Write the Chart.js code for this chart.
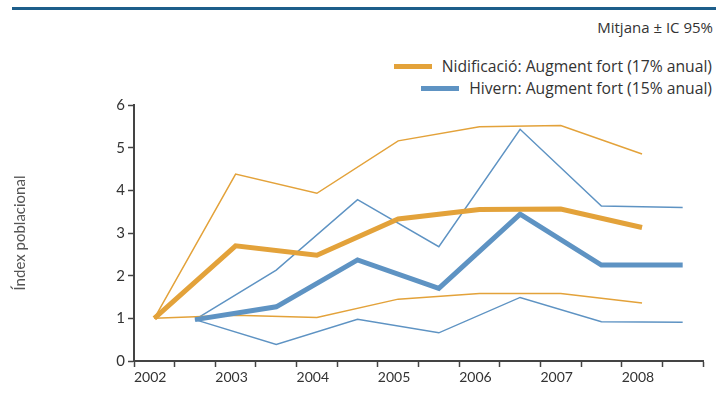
<!DOCTYPE html>
<html>
<head>
<meta charset="utf-8">
<script src="https://cdn.jsdelivr.net/npm/chart.js@4.4.1/dist/chart.umd.min.js"></script>
<style>
    body { margin: 0; width: 716px; height: 415px; position: relative; overflow: hidden; background: #fff; font-family: Lato, sans-serif; color: #333; }
    #rule { position: absolute; left: 12px; right: 0; top: 7px; height: 3px; background: #1d5e8a; }
    #note { position: absolute; right: 3px; top: 19px; font-family: "Open Sans", sans-serif; font-size: 15px; line-height: 17px; }
    #legend { position: absolute; right: 4px; top: 55px; font-family: "Open Sans", sans-serif; font-size: 15.7px; }
    .legend-row { display: flex; justify-content: flex-end; align-items: center; height: 22px; }
    .legend-line { width: 38px; height: 5px; margin-right: 10px; }
    #chartWrap { position: absolute; left: 0; top: 0; width: 716px; height: 415px; }
</style>
</head>
<body>
<div id="rule"></div>
<div id="note">Mitjana ± IC 95%</div>
<div id="legend"></div>
<div id="chartWrap"><canvas id="indexChart"></canvas></div>
<script>
Chart.defaults.font.family = "Lato, sans-serif"
Chart.defaults.color = "#333"

const years = [2002, 2003, 2004, 2005, 2006, 2007, 2008]
// breeding counts sit early in the year, winter counts late
const nestOffset = 0.25
const winterOffset = 0.75

const nestMean = [1.00, 2.70, 2.48, 3.33, 3.55, 3.56, 3.13]
const nestHigh = [1.00, 4.38, 3.93, 5.16, 5.49, 5.52, 4.85]
const nestLow = [1.00, 1.07, 1.02, 1.45, 1.58, 1.58, 1.36]

const winterMean = [0.97, 1.27, 2.37, 1.70, 3.44, 2.25, 2.25]
const winterHigh = [0.97, 2.13, 3.78, 2.68, 5.43, 3.63, 3.60]
const winterLow = [0.97, 0.39, 0.98, 0.66, 1.49, 0.92, 0.91]

const nestLabel = "Nidificació: Augment fort (17% anual)"
const winterLabel = "Hivern: Augment fort (15% anual)"
const yTicks = [0, 1, 2, 3, 4, 5, 6]

const orange = "#e3a23a"
const blue = "#5e93c3"

function toPoints(values, offset){
    return values.map((v, i) => ({x: years[i] + offset, y: v}))
}

function lineSet(label, values, offset, color, width, inLegend){
    return {
        label: label,
        data: toPoints(values, offset),
        borderColor: color,
        backgroundColor: color,
        borderWidth: width,
        pointRadius: 0,
        tension: 0,
        showInLegend: inLegend
    }
}

const chart = new Chart(document.getElementById("indexChart"), {
    type: "line",
    data: {
        datasets: [
            lineSet(nestLabel, nestMean, nestOffset, orange, 5, true),
            lineSet(winterLabel, winterMean, winterOffset, blue, 5, true),
            lineSet("", nestHigh, nestOffset, orange, 1.5, false),
            lineSet("", nestLow, nestOffset, orange, 1.5, false),
            lineSet("", winterHigh, winterOffset, blue, 1.5, false),
            lineSet("", winterLow, winterOffset, blue, 1.5, false)
        ]
    },
    options: {
        responsive: true,
        maintainAspectRatio: false,
        animation: false,
        layout: {
            padding: {top: 105, right: 13, bottom: 24, left: 0}
        },
        scales: {
            x: {
                type: "linear",
                min: 2002,
                max: 2009,
                grid: {
                    drawOnChartArea: false,
                    tickLength: 6,
                    tickColor: "#444",
                    tickWidth: 1.5
                },
                border: {color: "#444", width: 2},
                ticks: {
                    stepSize: 0.5,
                    autoSkip: false,
                    maxRotation: 0,
                    align: "start",
                    padding: 2,
                    font: {size: 14},
                    color: "#333",
                    callback: (v) => Number.isInteger(v) && v < 2009 ? String(v) : ""
                },
                afterFit: (scale) => { scale.height = 30 }
            },
            y: {
                min: 0,
                max: 6,
                grid: {
                    drawOnChartArea: false,
                    tickLength: 6,
                    tickColor: "#444",
                    tickWidth: 1.5
                },
                border: {color: "#444", width: 2},
                afterBuildTicks: (scale) => { scale.ticks = yTicks.map(v => ({value: v})) },
                ticks: {
                    padding: 3,
                    font: {size: 15},
                    color: "#333"
                },
                title: {
                    display: true,
                    text: "Índex poblacional",
                    font: {size: 15},
                    color: "#555",
                    padding: {top: 11, bottom: 0}
                },
                afterFit: (scale) => { scale.width = 134 }
            }
        },
        plugins: {
            legend: {display: false},
            tooltip: {enabled: false}
        }
    }
})

// legend rows, right aligned
const legendElement = document.getElementById("legend")
chart.data.datasets.filter(ds => ds.showInLegend).forEach(ds => {
    legendElement.innerHTML += `
        <div class="legend-row">
            <div class="legend-line" style="background-color: ${ds.borderColor};"></div>
            <div>${ds.label}</div>
        </div>
    `
})
</script>
</body>
</html>
